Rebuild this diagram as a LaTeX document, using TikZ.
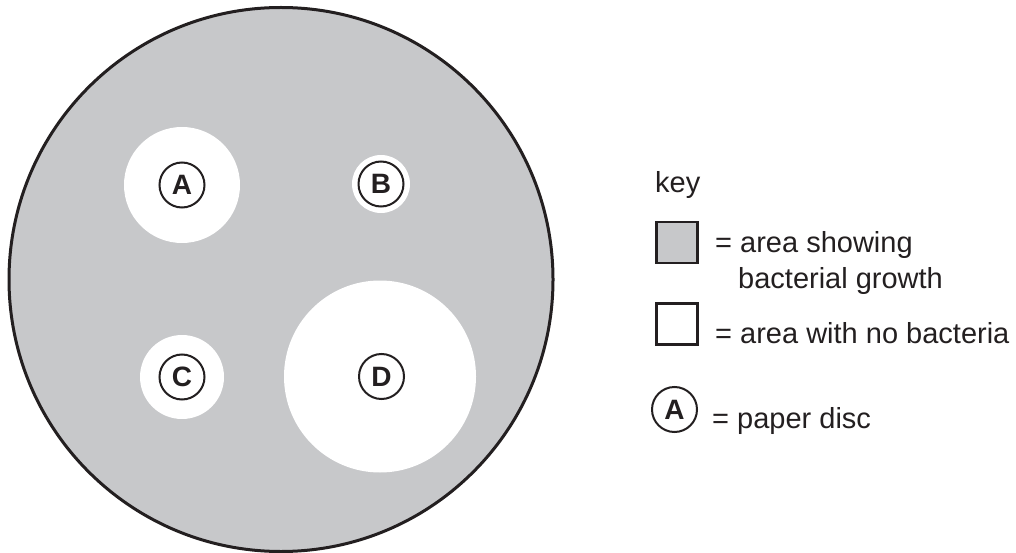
\documentclass[tikz,border=0pt]{standalone}
\usepackage{fontspec}
\setmainfont{Liberation Sans}
\definecolor{agar}{RGB}{199,200,202}
\definecolor{ink}{RGB}{35,31,32}
\begin{document}
\begin{tikzpicture}[x=1pt,y=-1pt,
  dish/.style={circle,draw=ink,line width=3pt,fill=agar,minimum size=544pt,inner sep=0pt},
  zone/.style={circle,fill=white,draw=none,inner sep=0pt},
  disc/.style={circle,draw=ink,line width=2pt,fill=white,minimum size=45pt,inner sep=0pt,
    font=\fontsize{28}{30}\selectfont\bfseries,text=ink},
  keybox/.style={rectangle,draw=ink,line width=2.5pt,minimum size=41pt,inner sep=0pt},
  keytext/.style={anchor=base west,inner sep=0pt,font=\fontsize{29}{34}\selectfont,text=ink}]
\useasboundingbox (0,0) rectangle (1016,553);
% petri dish
\node[dish] (plate) at (281,279.5) {};
% clear zones
\node[zone,minimum size=116pt] (zoneA) at (182,185) {};
\node[zone,minimum size=58pt] (zoneB) at (381,184) {};
\node[zone,minimum size=84pt] (zoneC) at (182,377) {};
\node[zone,minimum size=192pt] (zoneD) at (380,376.5) {};
% paper discs
\node[disc] (discA) at (182,185) {A};
\node[disc] (discB) at (381,184) {B};
\node[disc] (discC) at (182,377) {C};
\node[disc] (discD) at (381.5,376.5) {D};
% key
\node[keytext] (keylabel) at (655,193) {key};
\node[keybox,fill=agar] (keygrey) at (677,242.5) {};
\node[keytext] (keygrowth1) at (715,252) {= area showing};
\node[keytext] (keygrowth2) at (738,288) {bacterial growth};
\node[keybox,fill=white] (keywhite) at (677,324) {};
\node[keytext] (keyclear) at (715,343) {= area with no bacteria};
\node[disc] (keydisc) at (674.5,409.5) {A};
\node[keytext] (keypaper) at (712,428) {= paper disc};
\end{tikzpicture}
\end{document}
